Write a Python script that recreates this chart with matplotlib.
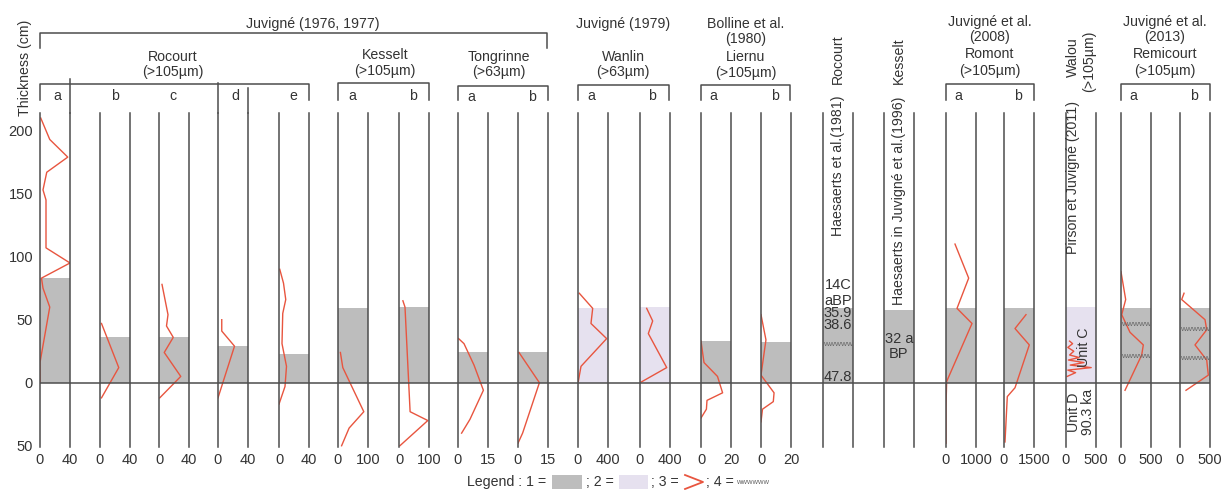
import numpy as np
import matplotlib
matplotlib.use("Agg")
from matplotlib import pyplot as plt
from matplotlib.patches import Rectangle

plt.rcParams['font.family'] = ['Liberation Sans', 'DejaVu Sans']

W, H = 1224, 490
LINE = '#4d4d4d'
RED = '#e8553f'
GREY = '#bdbdbd'
LILAC = '#e6e1ef'
TXT = '#333333'
FS = 10.2

# depth (cm) and values of the red curves, thickness of the layer
roc_a_depth = [210, 193, 179, 167, 153, 145, 107, 95, 83, 75, 60, 16, 0]
roc_a_val = [1, 13, 37, 9, 4, 8, 8, 40, 2, 4, 13, 0, 0]
roc_b_depth = [47, 12, -12]
roc_b_val = [2, 25, 2]
roc_c_depth = [78, 54, 45, 36, 24, 5, -12]
roc_c_val = [4, 12, 10, 19, 7, 29, 1]
roc_d_depth = [50, 41, 29, -12]
roc_d_val = [5, 5, 22, 0]
roc_e_depth = [90, 79, 66, 55, 31, 13, -3, -17]
roc_e_val = [1, 6, 9, 5, 4, 10, 8, 0]
kes_a_depth = [24, 12, -23, -36, -50]
kes_a_val = [8, 16, 86, 37, 12]
kes_b_depth = [65, 60, -23, -30, -50]
kes_b_val = [13, 20, 37, 96, 3]
ton_a_depth = [35, 31, 14, -6, -29, -40]
ton_a_val = [0.3, 3, 8, 12.7, 6, 1.8]
ton_b_depth = [24, 0, -40, -48]
ton_b_val = [0.5, 10.7, 2.3, 0]
wan_a_depth = [71, 59, 47, 35, 13, 1]
wan_a_val = [17, 196, 173, 382, 40, 4]
wan_b_depth = [59, 49, 39, 12, 0]
wan_b_val = [89, 169, 111, 356, 0]
lie_a_depth = [33, 16, 5, -8, -14, -21, -28]
lie_a_val = [0, 2, 11, 14.4, 4, 3.6, 0]
lie_b_depth = [54, 34, 6, -8, -15, -21, -31]
lie_b_val = [0, 3.3, 0, 8.7, 8.2, 1, 0]
rom_a_depth = [110, 83, 59, 47, 1, -19, -48]
rom_a_val = [300, 756, 367, 867, 22, 0, 0]
rom_b_depth = [54, 43, 30, -4, -11, -47]
rom_b_val = [1100, 550, 1265, 550, 165, 50]
wal_depth = [5, 8, 10, 12, 14, 16, 18, 20, 22, 25, 28, 31, 33]
wal_val = [20, 160, 30, 420, 70, 300, 40, 220, 60, 130, 30, 110, 60]
rem_a_depth = [88, 66, 54, 40, 30, 22, -6]
rem_a_val = [0, 78, 12, 150, 372, 345, 67]
rem_b_depth = [71, 66, 50, 42, 30, 18, 6, -6]
rem_b_val = [67, 28, 417, 445, 250, 445, 472, 100]

# columns: left pixel, x max, depth, values, layer top, fill colour, wavy levels
columns = [
    (40, 40, roc_a_depth, roc_a_val, 83, GREY, []),
    (100, 40, roc_b_depth, roc_b_val, 36, GREY, []),
    (159, 40, roc_c_depth, roc_c_val, 36, GREY, []),
    (218, 40, roc_d_depth, roc_d_val, 29, GREY, []),
    (279, 40, roc_e_depth, roc_e_val, 23, GREY, []),
    (338, 100, kes_a_depth, kes_a_val, 59, GREY, []),
    (399, 100, kes_b_depth, kes_b_val, 60, GREY, []),
    (458, 15, ton_a_depth, ton_a_val, 24, GREY, []),
    (518, 15, ton_b_depth, ton_b_val, 24, GREY, []),
    (578, 400, wan_a_depth, wan_a_val, 59, LILAC, []),
    (640, 400, wan_b_depth, wan_b_val, 60, LILAC, []),
    (701, 20, lie_a_depth, lie_a_val, 33, GREY, []),
    (761, 20, lie_b_depth, lie_b_val, 32, GREY, []),
    (823, None, None, None, 59, GREY, [30]),
    (884, None, None, None, 58, GREY, []),
    (946, 1000, rom_a_depth, rom_a_val, 59, GREY, []),
    (1004, 1500, rom_b_depth, rom_b_val, 59, GREY, []),
    (1066, 500, wal_depth, wal_val, 60, LILAC, []),
    (1121, 500, rem_a_depth, rem_a_val, 59, GREY, [46, 21]),
    (1180, 500, rem_b_depth, rem_b_val, 59, GREY, [42, 19]),
]

YMIN, YMAX = -51, 214
PT, PB = 113, 447
CW = 30

fig = plt.figure(figsize=(W / 100, H / 100), dpi=100)
fig.patch.set_facecolor('white')

# base axes: depth scale and zero line
base = fig.add_axes([40 / W, 1 - PB / H, (1210 - 40) / W, (PB - PT) / H])
base.set_facecolor('none')
base.set_ylim(YMIN, YMAX)
base.set_xlim(0, 1)
for s in base.spines.values():
    s.set_visible(False)
base.set_xticks([])
base.set_yticks([-50, 0, 50, 100, 150, 200])
base.set_yticklabels(['50', '0', '50', '100', '150', '200'], fontsize=10.5, color=TXT)
base.tick_params(axis='y', length=0, pad=5)
base.axhline(0, color=LINE, lw=1.1)
base.set_zorder(3)

for x0, xmax, depth, vals, top, fill, wavy in columns:
    ax = fig.add_axes([x0 / W, 1 - PB / H, CW / W, (PB - PT) / H])
    ax.set_facecolor('none')
    ax.set_ylim(YMIN, YMAX)
    lim = xmax if xmax else 1
    ax.set_xlim(0, lim)
    ax.fill_between([0, lim], 0, top, color=fill, lw=0)
    if depth is not None:
        ax.plot(vals, depth, color=RED, lw=1.0)
    for w in wavy:
        ax.text(lim / 2, w, 'wwwww', fontsize=6, color='#666666', ha='center', va='center')
    for k in ['top', 'bottom']:
        ax.spines[k].set_visible(False)
    for k in ['left', 'right']:
        ax.spines[k].set_color(LINE)
        ax.spines[k].set_linewidth(1.1)
    ax.set_yticks([])
    if xmax:
        ax.set_xticks([0, xmax])
        ax.set_xticklabels(['0', str(xmax)], fontsize=10.5, color=TXT)
        ax.tick_params(axis='x', length=0, pad=4)
    else:
        ax.set_xticks([])

# overlay in pixel coordinates for headers
ov = fig.add_axes([0, 0, 1, 1])
ov.set_xlim(0, W)
ov.set_ylim(H, 0)
ov.axis('off')
ov.set_zorder(4)


def bracket(x1, x2, y, drop, lw=1.1):
    ov.plot([x1, x1, x2, x2], [y + drop, y, y, y + drop], color=LINE, lw=lw)


def label(x, y, s, **kw):
    kw.setdefault('fontsize', FS)
    kw.setdefault('color', TXT)
    ov.text(x, y, s, ha='center', va='center', **kw)


ov.text(25, 68, 'Thickness (cm)', rotation=90, fontsize=FS, color=TXT, ha='center', va='center')

bracket(40, 547, 33, 15)
label(313, 24, 'Juvigné (1976, 1977)')

label(173, 57, 'Rocourt')
label(173, 72, '(>105µm)')
bracket(40, 309, 84, 16)
for xs, ys in [(70, 79), (218, 83), (248, 88)]:
    ov.plot([xs, xs], [ys, PT], color=LINE, lw=1.1)
for s, xs in zip('abcde', [57, 115, 173, 235, 293]):
    label(xs, 96, s)

label(385, 55, 'Kesselt')
label(385, 71, '(>105µm)')
bracket(338, 429, 83, 17)
label(352, 96, 'a')
label(413, 96, 'b')

label(499, 57, 'Tongrinne')
label(499, 72, '(>63µm)')
bracket(458, 548, 86, 14)
label(471, 97, 'a')
label(532, 97, 'b')

label(623, 24, 'Juvigné (1979)')
label(623, 57, 'Wanlin')
label(623, 72, '(>63µm)')
bracket(578, 669, 85, 15)
label(591, 96, 'a')
label(652, 96, 'b')

label(746, 24, 'Bolline et al.')
label(746, 39, '(1980)')
label(746, 57, 'Liernu')
label(746, 73, '(>105µm)')
bracket(701, 790, 85, 15)
label(713, 96, 'a')
label(775, 96, 'b')

label(838, 59, 'Rocourt', rotation=90)
label(838, 166, 'Haesaerts et al.(1981)', rotation=90)
label(838, 285, '14C', fontsize=10.5)
label(838, 301, 'aBP', fontsize=10.5)
label(838, 313, '35.9', fontsize=10.5)
label(838, 325, '38.6', fontsize=10.5)
label(838, 377, '47.8', fontsize=10.5)

label(899, 61, 'Kesselt', rotation=90)
label(899, 201, 'Haesaerts in Juvigné et al.(1996)', rotation=90)
label(899, 339, '32 a', fontsize=10.5)
label(899, 354, 'BP', fontsize=10.5)

label(990, 22, 'Juvigné et al.')
label(990, 37, '(2008)')
label(990, 54, 'Romont')
label(990, 71, '(>105µm)')
bracket(946, 1034, 84, 16)
label(958, 96, 'a')
label(1018, 96, 'b')

label(1073, 57, 'Walou', rotation=90)
label(1089, 61, '(>105µm)', rotation=90)
label(1073, 177, 'Pirson et Juvigné (2011)', rotation=90)
label(1084, 347, 'Unit C', rotation=90)
label(1074, 412, 'Unit D', rotation=90)
label(1088, 412, '90.3 ka', rotation=90)

label(1165, 22, 'Juvigné et al.')
label(1165, 37, '(2013)')
label(1165, 54, 'Remicourt')
label(1165, 71, '(>105µm)')
bracket(1121, 1210, 84, 16)
label(1133, 96, 'a')
label(1194, 96, 'b')

# legend row
ov.text(467, 482, 'Legend : 1 = ', fontsize=FS, color=TXT, ha='left', va='center')
ov.add_patch(Rectangle((552, 475), 30, 14, color=GREY, lw=0))
ov.text(586, 482, '; 2 =', fontsize=FS, color=TXT, ha='left', va='center')
ov.add_patch(Rectangle((619, 475), 29, 14, color=LILAC, lw=0))
ov.text(651, 482, '; 3 =', fontsize=FS, color=TXT, ha='left', va='center')
ov.plot([685, 703, 685], [475, 482, 489], color=RED, lw=1.3)
ov.text(706, 482, '; 4 =', fontsize=FS, color=TXT, ha='left', va='center')
ov.text(736, 482, 'wwwwww', fontsize=5.5, color='#666666', ha='left', va='center')

fig.savefig('out.png', dpi=100, facecolor='white')
